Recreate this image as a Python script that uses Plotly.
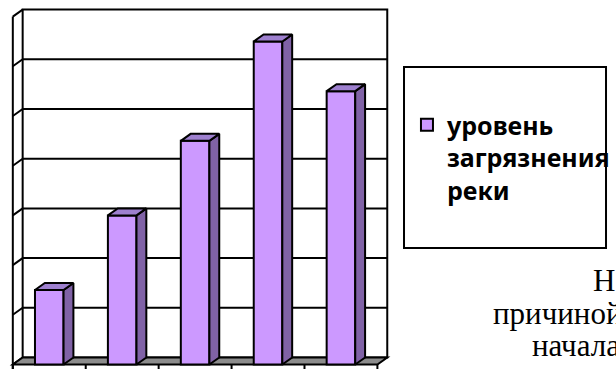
import plotly.graph_objects as go

# ---------------- data ----------------
categories = ["1", "2", "3", "4", "5"]          # category slots (no labels shown)
values = [1.5, 3.0, 4.5, 6.5, 5.5]               # river pollution level
grid_levels = [1, 2, 3, 4, 5, 6, 7]              # value gridlines (7 = top of wall)
series_name = "уровень<br>загрязнения<br>реки"
doc_lines = ["Н", "причиной", "начала"]         # clipped document text to the right

# ---------------- geometry (pixel layout) ----------------
W, H = 616, 369
LEFT_PX, CAT_PX = 13.0, 74.0        # front-left x, width of one category
ZERO_PX, UNIT_PX = 364.5, 49.7      # front floor y, pixels per value unit
DX = 10.0 / CAT_PX                  # depth offset (x) in axis units
DY = 7.0 / UNIT_PX                  # depth offset (y) in axis units
BAR_W = 29.0 / CAT_PX

n = len(categories)
idx = list(range(n))
xmin = -0.5 - LEFT_PX / CAT_PX
xmax = -0.5 + (W - LEFT_PX) / CAT_PX
ymin = -(H - ZERO_PX) / UNIT_PX
ymax = ZERO_PX / UNIT_PX
top = max(grid_levels)

FRONT = "#CC99FF"
SIDE = "#8062A6"
TOPC = "#9E80CF"
FLOOR = "#8C8C8C"
LW = 2.0

def px(xp):
    return xp / W

def py(yp):
    return 1 - yp / H

shapes = []
# back wall
shapes.append(dict(type="rect", xref="x", yref="y", layer="below",
                   x0=-0.5 + DX, x1=n - 0.5 + DX, y0=DY, y1=top + DY,
                   line=dict(color="black", width=LW), fillcolor="white"))
# back-wall gridlines
for v in grid_levels[:-1]:
    shapes.append(dict(type="line", xref="x", yref="y", layer="below",
                       x0=-0.5 + DX, x1=n - 0.5 + DX, y0=v + DY, y1=v + DY,
                       line=dict(color="black", width=LW)))
# left wall: front vertical edge and depth diagonals
shapes.append(dict(type="line", xref="x", yref="y", layer="below",
                   x0=-0.5, x1=-0.5, y0=ymin, y1=top,
                   line=dict(color="black", width=LW)))
for v in [0] + grid_levels:
    shapes.append(dict(type="line", xref="x", yref="y", layer="below",
                       x0=-0.5, x1=-0.5 + DX, y0=v, y1=v + DY,
                       line=dict(color="black", width=LW)))
# floor
x_l, x_r = -0.5, n - 0.5
shapes.append(dict(type="path", xref="x", yref="y", layer="below",
                   path=f"M{x_l},0 L{x_r},0 L{x_r + DX},{DY} L{x_l + DX},{DY} Z",
                   line=dict(color="black", width=LW), fillcolor=FLOOR))
# category ticks
for k in range(n + 1):
    shapes.append(dict(type="line", xref="x", yref="y", layer="below",
                       x0=-0.5 + k, x1=-0.5 + k, y0=0, y1=ymin,
                       line=dict(color="black", width=LW)))
# legend frame
shapes.append(dict(type="rect", xref="paper", yref="paper",
                   x0=px(410), x1=px(615), y0=py(248), y1=py(67),
                   line=dict(color="black", width=LW), fillcolor="rgba(0,0,0,0)"))

# side and top faces, derived from the values
sx, sy, tx, ty = [], [], [], []
for i, v in zip(idx, values):
    r = i + BAR_W / 2
    l = i - BAR_W / 2
    sx += [r, r + DX, r + DX, r, r, None]
    sy += [0, DY, v + DY, v, 0, None]
    tx += [l, r, r + DX, l + DX, l, None]
    ty += [v, v, v + DY, v + DY, v, None]

fig = go.Figure()
fig.add_trace(go.Bar(x=idx, y=values, width=BAR_W, name=series_name,
                     marker=dict(color=FRONT, line=dict(color="black", width=LW)),
                     hoverinfo="skip", showlegend=True))
fig.add_trace(go.Scatter(x=sx, y=sy, mode="lines", fill="toself", fillcolor=SIDE,
                         line=dict(color="black", width=LW), showlegend=False,
                         hoverinfo="skip"))
fig.add_trace(go.Scatter(x=tx, y=ty, mode="lines", fill="toself", fillcolor=TOPC,
                         line=dict(color="black", width=LW), showlegend=False,
                         hoverinfo="skip"))

annotations = []
line_pos = [(600, 290), (498, 323), (538, 355)]
for t, (xp, base) in zip(doc_lines, line_pos):
    annotations.append(dict(text=t, xref="paper", yref="paper", x=px(xp),
                            y=py(base - 10), xanchor="left", yanchor="middle",
                            showarrow=False,
                            font=dict(family="Liberation Serif", size=31, color="black")))

fig.update_layout(
    width=W, height=H, margin=dict(l=0, r=0, t=0, b=0),
    paper_bgcolor="white", plot_bgcolor="white",
    xaxis=dict(range=[xmin, xmax], visible=False, fixedrange=True),
    yaxis=dict(range=[ymin, ymax], visible=False, fixedrange=True),
    shapes=shapes, annotations=annotations,
    showlegend=True,
    legend=dict(x=px(413), y=py(102), xanchor="left", yanchor="top",
                valign="top", bgcolor="rgba(0,0,0,0)", borderwidth=0,
                font=dict(family="Noto Sans", size=25, color="black", weight="bold")),
    bargap=0,
)

fig.write_html("out.html",
               config={"displayModeBar": False, "staticPlot": True},
               post_script="document.body.style.margin='0';"
                           "document.body.style.overflow='hidden';")
